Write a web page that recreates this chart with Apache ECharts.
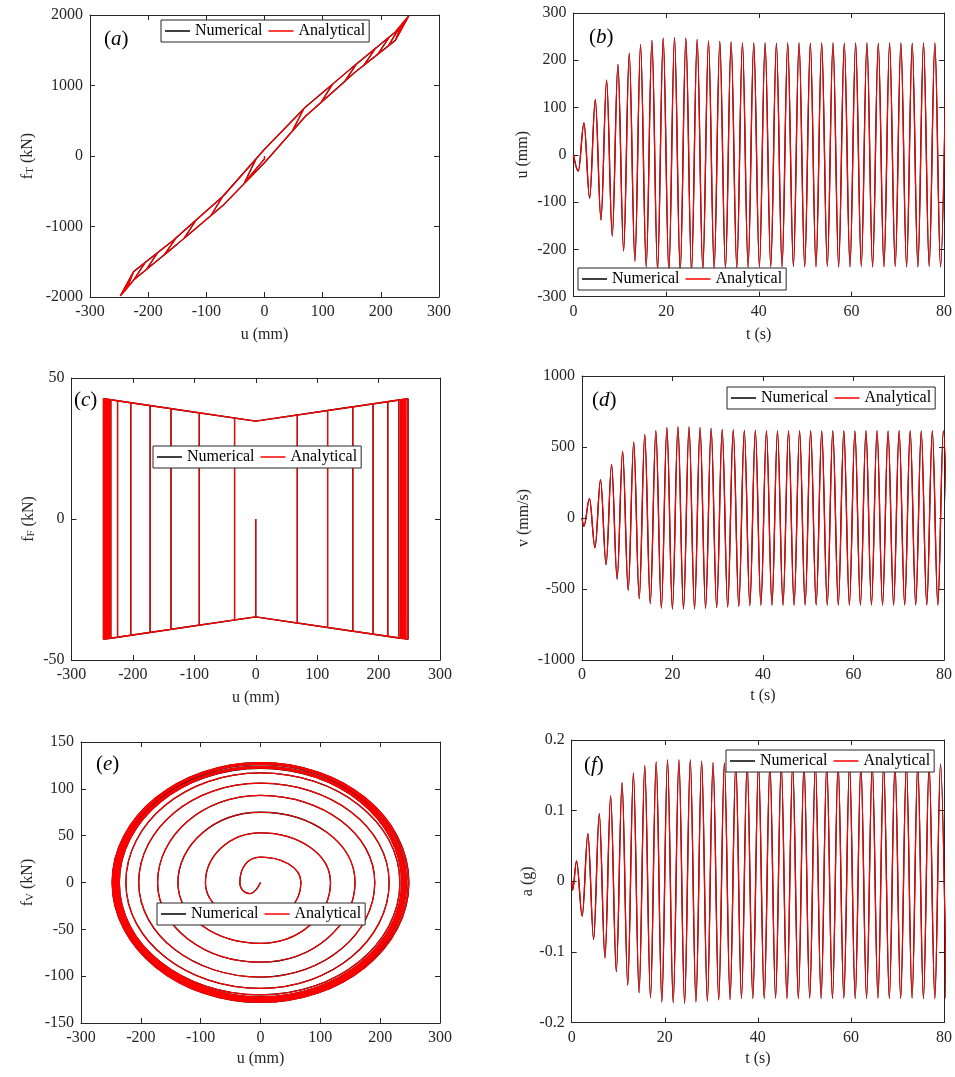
<!DOCTYPE html>
<html>
<head>
<meta charset="utf-8">
<script src="https://cdn.jsdelivr.net/npm/echarts/dist/echarts.min.js"></script>
<style>html,body{margin:0;padding:0;background:#fff}#chart{width:955px;height:1077px}</style>
</head>
<body>
<div id="chart"></div>
<script>
// ---------- data ----------
// times (s) of the displacement / acceleration extremes
const tU = [1.04, 2.26, 3.48, 4.71, 5.93, 7.15, 8.37, 9.59, 10.82, 12.04,
  13.26, 14.48, 15.70, 16.93, 18.15, 19.37, 20.59, 21.81, 23.04, 24.26,
  25.48, 26.70, 27.92, 29.15, 30.37, 31.59, 32.81, 34.03, 35.26, 36.48,
  37.70, 38.92, 40.14, 41.37, 42.59, 43.81, 45.03, 46.25, 47.48, 48.70,
  49.92, 51.14, 52.36, 53.59, 54.81, 56.03, 57.25, 58.47, 59.70, 60.92,
  62.14, 63.36, 64.58, 65.81, 67.03, 68.25, 69.47, 70.69, 71.92, 73.14,
  74.36, 75.58, 76.80, 78.03, 79.25, 80.47];
// displacement extremes (mm)
const uExt = [-34.5, 67.6, -92, 117, -138, 158, -172, 191, -203.5, 215,
  -225, 233, -237, 242, -244, 247, -248, 248, -248, 247,
  -246, 244, -243, 241, -241, 240, -240, 239, -239, 237,
  -238, 237, -237, 237, -237, 236, -237, 237, -236, 237,
  -237, 236, -237, 237, -236, 237, -237, 236, -237, 237,
  -236, 237, -237, 236, -237, 237, -236, 237, -237, 236,
  -237, 237, -236, 237, -237, 236];
// acceleration extremes (g), same instants as uExt
const aStartT = [0, 0.2];
const aStartV = [0, -0.0127];
const aExt = [0.0288, -0.0495, 0.0675, -0.0825, 0.0958, -0.1085, 0.1210, -0.1280, 0.1396, -0.1470,
  0.1530, -0.1580, 0.1637, -0.1650, 0.1690, -0.1708, 0.1720, -0.1720, 0.1720, -0.1730,
  0.1720, -0.1710, 0.1700, -0.1700, 0.1680, -0.1680, 0.1675, -0.1675, 0.1670, -0.1660,
  0.1665, -0.1660, 0.1660, -0.1660, 0.1660, -0.1655, 0.1660, -0.1660, 0.1655, -0.1660,
  0.1660, -0.1655, 0.1660, -0.1660, 0.1655, -0.1660, 0.1660, -0.1655, 0.1660, -0.1660,
  0.1655, -0.1660, 0.1660, -0.1655, 0.1660, -0.1660, 0.1655, -0.1660, 0.1660, -0.1655,
  0.1660, -0.1660, 0.1655, -0.1660, 0.1660, -0.1655];
// times (s) of the velocity extremes
const tV = [0.43, 1.65, 2.87, 4.10, 5.32, 6.54, 7.76, 8.98, 10.21, 11.43,
  12.65, 13.87, 15.09, 16.32, 17.54, 18.76, 19.98, 21.20, 22.43, 23.65,
  24.87, 26.09, 27.31, 28.54, 29.76, 30.98, 32.20, 33.42, 34.65, 35.87,
  37.09, 38.31, 39.53, 40.76, 41.98, 43.20, 44.42, 45.64, 46.87, 48.09,
  49.31, 50.53, 51.75, 52.98, 54.20, 55.42, 56.64, 57.86, 59.09, 60.31,
  61.53, 62.75, 63.97, 65.20, 66.42, 67.64, 68.86, 70.08, 71.31, 72.53,
  73.75, 74.97, 76.19, 77.42, 78.64, 79.86, 81.08];
// velocity extremes (mm/s)
const vExt = [-58.7, 136, -209, 270, -329, 378, -430, 469, -509, 535,
  -568, 587, -603, 613, -634, 636, -641, 641, -641, 641,
  -640, 636, -636, 631, -631, 622, -627, 620, -622, 617,
  -617, 617, -614, 614, -614, 613, -614, 613, -613, 613,
  -613, 613, -613, 612, -613, 613, -612, 613, -613, 612,
  -613, 613, -612, 613, -613, 612, -613, 613, -612, 613,
  -613, 612, -613, 613, -612, 613, -613];
// viscous force extremes (kN), same instants as vExt
const eHookU = -18;
const eEnd = [95, 113];
const fVExt = [-11.8, 27, -42, 53, -65, 75, -85, 93, -101, 106,
  -113, 117, -120, 122, -126, 127, -128, 128, -128, 128,
  -128, 127, -127, 126, -126, 124, -125, 124, -124, 123,
  -123, 123, -122, 122, -122, 122, -122, 122, -122, 122,
  -122, 122, -122, 122, -122, 122, -122, 122, -122, 122,
  -122, 122, -122, 122, -122, 122, -122, 122, -122, 122,
  -122, 122, -122, 122, -122, 122, -122];
// friction force magnitude at each reversal (kN) and at u = 0
const fF0 = 34.7;
const fFExt = [35.8, 36.9, 37.6, 38.4, 39.1, 39.8, 40.2, 40.8, 41.2, 41.6,
  41.9, 42.2, 42.3, 42.4, 42.5, 42.6, 42.6, 42.6, 42.6, 42.6,
  42.6, 42.5, 42.5, 42.4, 42.4, 42.4, 42.4, 42.3, 42.3, 42.3,
  42.3, 42.3, 42.3, 42.3, 42.3, 42.3, 42.3, 42.3, 42.3, 42.3,
  42.3, 42.3, 42.3, 42.3, 42.3, 42.3, 42.3, 42.3, 42.3, 42.3,
  42.3, 42.3, 42.3, 42.3, 42.3, 42.3, 42.3, 42.3, 42.3, 42.3,
  42.3, 42.3, 42.3, 42.3, 42.3, 42.3];
// total force: value at each reversal tip, knee after reversal, branch nodes (kN)
const aTip = [-380, 670, -844, 1019, -1166, 1304, -1400, 1529, -1614, 1692,
  -1760, 1838, -1878, 1927, -1947, 1975, -1985, 1985, -1985, 1975,
  -1966, 1947, -1937, 1917, -1917, 1908, -1908, 1898, -1898, 1878,
  -1888, 1878, -1878, 1878, -1878, 1868, -1878, 1878, -1868, 1878,
  -1878, 1868, -1878, 1878, -1868, 1878, -1878, 1868, -1878, 1878,
  -1868, 1878, -1878, 1868, -1878, 1878, -1868, 1878, -1878, 1868,
  -1878, 1878, -1868, 1878, -1878, 1868];
const aKneeU = [-14.5, 47.6, -72, 97, -118, 138, -152, 171, -183.5, 195,
  -205, 213, -225, 225, -225, 225, -225, 225, -225, 225,
  -225, 225, -225, 225, -225, 225, -225, 225, -225, 225,
  -225, 225, -225, 225, -225, 225, -225, 225, -225, 225,
  -225, 225, -225, 225, -225, 225, -225, 225, -225, 225,
  -225, 225, -225, 225, -225, 225, -225, 225, -225, 225,
  -225, 225, -225, 225, -225, 225];
const aKneeF = [-41, 350, -575, 758, -912, 1058, -1161, 1288, -1369, 1444,
  -1509, 1562, -1640, 1640, -1640, 1640, -1640, 1640, -1640, 1640,
  -1640, 1640, -1640, 1640, -1640, 1640, -1640, 1640, -1640, 1640,
  -1640, 1640, -1640, 1640, -1640, 1640, -1640, 1640, -1640, 1640,
  -1640, 1640, -1640, 1640, -1640, 1640, -1640, 1640, -1640, 1640,
  -1640, 1640, -1640, 1640, -1640, 1640, -1640, 1640, -1640, 1640,
  -1640, 1640, -1640, 1640, -1640, 1640];
const upperU = [-225, -156, -70, 0, 70, 150, 200, 225];
const upperF = [-1640, -1190, -560, 95, 690, 1250, 1590, 1760];
const lowerU = [225, 156, 70, 0, -70, -150, -200, -225];
const lowerF = [1640, 1190, 560, -95, -690, -1250, -1590, -1760];
const aStart = [[0, 0], [0, -40]];

// axis tick settings
const xU = [-300, 300, 100];
const xT = [0, 80, 20];
const yA = [-2000, 2000, 1000];
const yB = [-300, 300, 100];
const yC = [-50, 50, 50];
const yD = [-1000, 1000, 500];
const yE = [-150, 150, 50];
const yF = [-0.2, 0.2, 0.1];
const seriesNames = ['Numerical', 'Analytical'];

// ---------- build tables ----------
const lastRev = 64; // last reversal inside 0..80 s
const dataB = [[0, 0]].concat(tU.map((t, i) => [t, uExt[i]]));
const dataD = [[0, 0]].concat(tV.map((t, i) => [t, vExt[i]]));
const dataF = aStartT.map((t, i) => [t, aStartV[i]]).concat(tU.map((t, i) => [t, aExt[i]]));

const dataE = [[0, 0]];
for (let m = 0; m <= lastRev; m++) {
  dataE.push([m === 0 ? eHookU : 0, fVExt[m]]);
  dataE.push([uExt[m], 0]);
}
dataE.push([0, fVExt[lastRev + 1]]);
dataE.push(eEnd);

const dataC = [[0, 0], [0, -fF0]];
for (let j = 0; j <= lastRev; j++) {
  const s = Math.sign(uExt[j]);
  dataC.push([uExt[j], s * fFExt[j]]);
  dataC.push([uExt[j], -s * fFExt[j]]);
  dataC.push([0, -s * fF0]);
}

const dataA = aStart.slice();
for (let j = 0; j <= lastRev; j++) {
  dataA.push([uExt[j], aTip[j]]);
  dataA.push([aKneeU[j], aKneeF[j]]);
  if (j < lastRev) {
    const target = uExt[j + 1];
    if (target > uExt[j]) {
      upperU.forEach((u, k) => { if (u > aKneeU[j] && u < target) dataA.push([u, upperF[k]]); });
    } else {
      lowerU.forEach((u, k) => { if (u < aKneeU[j] && u > target) dataA.push([u, lowerF[k]]); });
    }
  }
}

// ---------- chart ----------
const FONT = '"Liberation Serif", "Times New Roman", serif';
const INK = '#262626';
const grids = [
  {left: 90, top: 15, width: 349, height: 282},
  {left: 573.5, top: 13, width: 370.5, height: 283.6},
  {left: 71.5, top: 378, width: 368.5, height: 282},
  {left: 582, top: 376, width: 362, height: 284},
  {left: 81, top: 742, width: 359, height: 281},
  {left: 571.7, top: 740, width: 373.3, height: 282.5}
];
const richName = {
  m: {fontFamily: FONT, fontSize: 16, color: INK, lineHeight: 16, verticalAlign: 'top'},
  s: {fontFamily: FONT, fontSize: 11, color: INK, lineHeight: 11, padding: [8, 0, 0, 0], verticalAlign: 'bottom'}
};
const panelCfg = [
  {x: xU, y: yA, xn: 'u (mm)', yn: '{m|f}{s|T}{m| (kN)}', xg: 30, yg: 54},
  {x: xT, y: yB, xn: 't (s)', yn: 'u (mm)', xg: 30, yg: 43},
  {x: xU, y: yC, xn: 'u (mm)', yn: '{m|f}{s|F}{m| (kN)}', xg: 30, yg: 35},
  {x: xT, y: yD, xn: 't (s)', yn: 'v (mm/s)', xg: 28, yg: 50},
  {x: xU, y: yE, xn: 'u (mm)', yn: '{m|f}{s|V}{m| (kN)}', xg: 28, yg: 45},
  {x: xT, y: yF, xn: 't (s)', yn: 'a (g)', xg: 28, yg: 31}
];
function axis(g, r, pos, main, name, gap) {
  const a = {
    gridIndex: g, type: 'value', min: r[0], max: r[1], interval: r[2], position: pos,
    axisLine: {show: true, onZero: false, lineStyle: {color: INK, width: 1}},
    axisTick: {show: true, inside: true, length: 5, lineStyle: {color: INK, width: 1}},
    axisLabel: {show: main, color: INK, fontFamily: FONT, fontSize: 16, margin: 7,
      formatter: v => String(v)},
    splitLine: {show: false}
  };
  if (main) {
    a.name = name; a.nameLocation = 'middle'; a.nameGap = gap;
    a.nameTextStyle = {fontFamily: FONT, fontSize: 16, color: INK, rich: richName};
    if (pos === 'left') a.nameRotate = 90;
  }
  return a;
}
const xAxes = [], yAxes = [];
panelCfg.forEach((p, g) => {
  xAxes.push(axis(g, p.x, 'bottom', true, p.xn, p.xg));
  xAxes.push(axis(g, p.x, 'top', false));
  yAxes.push(axis(g, p.y, 'left', true, p.yn, p.yg));
  yAxes.push(axis(g, p.y, 'right', false));
});
const tables = [
  {d: dataA, smooth: false},
  {d: dataB, smooth: 0.36, mono: 'x'},
  {d: dataC, smooth: false},
  {d: dataD, smooth: 0.36, mono: 'x'},
  {d: dataE, smooth: 0.55},
  {d: dataF, smooth: 0.36, mono: 'x'}
];
const series = [];
tables.forEach((tb, g) => {
  [['#000000', 1.3], ['#ff0000', 1.2]].forEach((st, k) => {
    const s = {
      type: 'line', name: seriesNames[k], xAxisIndex: 2 * g, yAxisIndex: 2 * g,
      data: tb.d, symbol: 'none', showSymbol: false, smooth: tb.smooth, clip: true,
      color: st[0], lineStyle: {color: st[0], width: st[1]}, emphasis: {disabled: true}
    };
    if (tb.mono) s.smoothMonotone = tb.mono;
    series.push(s);
  });
});
const legendPos = [[161, 20], [578, 268], [153, 446], [727, 387], [157, 903], [726, 750]];
const legends = legendPos.map(p => ({
  left: p[0], top: p[1], orient: 'horizontal', data: seriesNames, selectedMode: false,
  icon: 'rect', itemWidth: 25, itemHeight: 1.5, itemGap: 6,
  padding: [3, 4, 3, 4], borderColor: INK, borderWidth: 1, backgroundColor: '#ffffff',
  textStyle: {fontFamily: FONT, fontSize: 16, color: '#000'}
}));
const panelLabels = [['a', 104, 29], ['b', 589, 27], ['c', 74, 390], ['d', 592, 390], ['e', 96, 754], ['f', 584, 755]];
const graphic = panelLabels.map(p => ({
  type: 'text', left: p[1], top: p[2], z: 100,
  style: {
    text: '{p|(}{i|' + p[0] + '}{p|)}',
    rich: {
      p: {fontFamily: FONT, fontSize: 21, fill: '#000'},
      i: {fontFamily: FONT, fontSize: 21, fontStyle: 'italic', fill: '#000'}
    }
  }
}));
const chart = echarts.init(document.getElementById('chart'), null, {renderer: 'canvas'});
chart.setOption({
  animation: false,
  backgroundColor: '#ffffff',
  grid: grids,
  xAxis: xAxes,
  yAxis: yAxes,
  legend: legends,
  series: series,
  graphic: graphic
});
</script>
</body>
</html>
